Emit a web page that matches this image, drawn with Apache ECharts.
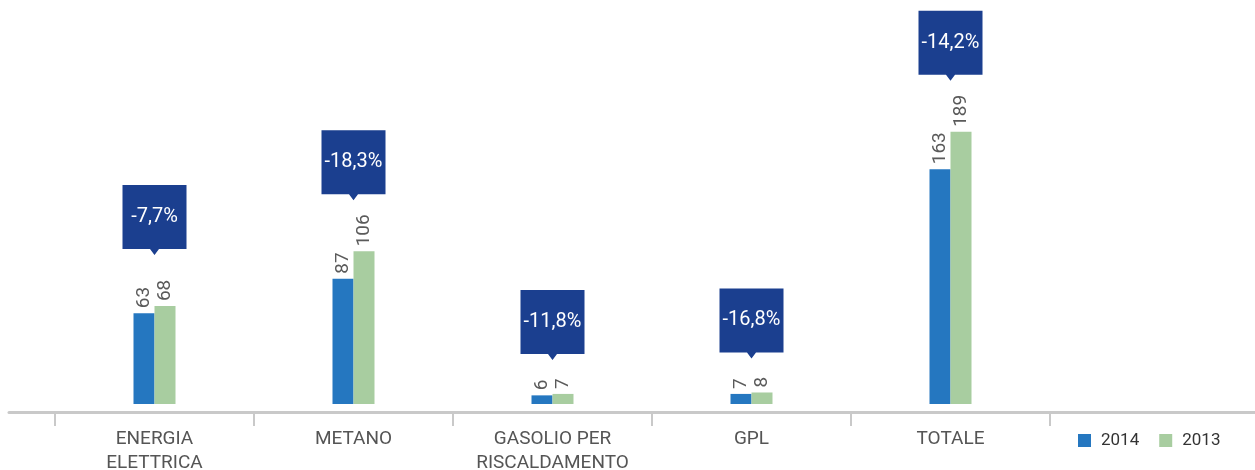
<!DOCTYPE html>
<html lang="it">
<head>
    <meta charset="UTF-8">
    <title>Consumi</title>
    <style>
        html, body { margin: 0; padding: 0; background: #fff; }
    </style>
</head>
<body>
<div id="main" style="width: 1255px; height: 470px;"></div>

<script src="https://cdn.jsdelivr.net/npm/echarts@6/dist/echarts.min.js"></script>
<script type="text/javascript">
    var categories = ['ENERGIA\nELETTRICA', 'METANO', 'GASOLIO PER\nRISCALDAMENTO', 'GPL', 'TOTALE'];
    var values2014 = [63, 87, 6, 7, 163];
    var values2013 = [68, 106, 7, 8, 189];
    var changes = ['-7,7%', '-18,3%', '-11,8%', '-16,8%', '-14,2%'];

    var FONT = 'Roboto, sans-serif';
    var BLUE = '#2577c0';
    var GREEN = '#a8cda0';
    var NAVY = '#1b3f8f';
    var AXIS = '#c9c9c9';

    // callout box sits on the higher bar of each pair, lifted above its value label
    var callouts = categories.map(function (c, i) {
        var top = Math.max(values2014[i], values2013[i]);
        var lift = String(top).length === 1 ? 34 : 51;
        return {
            value: [i, top],
            symbolOffset: [0, -(lift + 35)],
            label: { formatter: changes[i] }
        };
    });

    var barLabel = {
        show: true,
        position: 'top',
        rotate: 90,
        align: 'left',
        verticalAlign: 'middle',
        distance: 5,
        color: '#5a5a5a',
        fontSize: 19,
        fontFamily: FONT
    };

    var myChart = echarts.init(document.getElementById('main'));
    var option = {
        animation: false,
        legend: {
            data: ['2014', '2013'],
            left: 1073,
            top: 427,
            icon: 'rect',
            itemWidth: 13,
            itemHeight: 13,
            itemGap: 20,
            textStyle: { color: '#333', fontSize: 17, fontFamily: FONT, padding: [0, 0, 0, 5] }
        },
        grid: [
            { left: 55, right: 205, top: 116, bottom: 66, outerBoundsMode: 'none' },
            { left: 9, right: 0, top: 116, bottom: 66, outerBoundsMode: 'none' }
        ],
        xAxis: [
            {
                type: 'category',
                gridIndex: 0,
                data: categories,
                offset: 8,
                axisLine: { onZero: false, lineStyle: { color: AXIS, width: 3 } },
                axisTick: { show: true, interval: 0, length: 14, lineStyle: { color: AXIS, width: 2 } },
                axisLabel: {
                    interval: 0,
                    margin: 15,
                    color: '#555',
                    fontSize: 19,
                    lineHeight: 24,
                    fontFamily: FONT
                }
            },
            {
                type: 'value',
                gridIndex: 1,
                min: 0,
                max: 1,
                offset: 8,
                axisLine: { show: true, onZero: false, lineStyle: { color: AXIS, width: 3 } },
                axisTick: { show: false },
                axisLabel: { show: false },
                splitLine: { show: false }
            }
        ],
        yAxis: [
            { type: 'value', gridIndex: 0, min: 0, max: 200, show: false, splitLine: { show: false } },
            { type: 'value', gridIndex: 1, show: false, splitLine: { show: false } }
        ],
        series: [
            {
                name: '2014',
                type: 'bar',
                data: values2014,
                barWidth: 21,
                barGap: '0%',
                itemStyle: { color: BLUE },
                label: barLabel
            },
            {
                name: '2013',
                type: 'bar',
                data: values2013,
                barWidth: 21,
                itemStyle: { color: GREEN },
                label: barLabel
            },
            {
                name: 'variazione',
                type: 'scatter',
                clip: false,
                data: callouts,
                symbol: 'path://M0,0 H64 V64 H36.5 L32,70 L27.5,64 H0 Z',
                symbolSize: [64, 70],
                itemStyle: { color: NAVY, opacity: 1 },
                label: {
                    show: true,
                    position: 'inside',
                    offset: [0, -3],
                    color: '#fff',
                    fontSize: 20,
                    fontFamily: FONT
                },
                emphasis: { disabled: true },
                z: 5
            }
        ]
    };
    myChart.setOption(option);
</script>
</body>
</html>
